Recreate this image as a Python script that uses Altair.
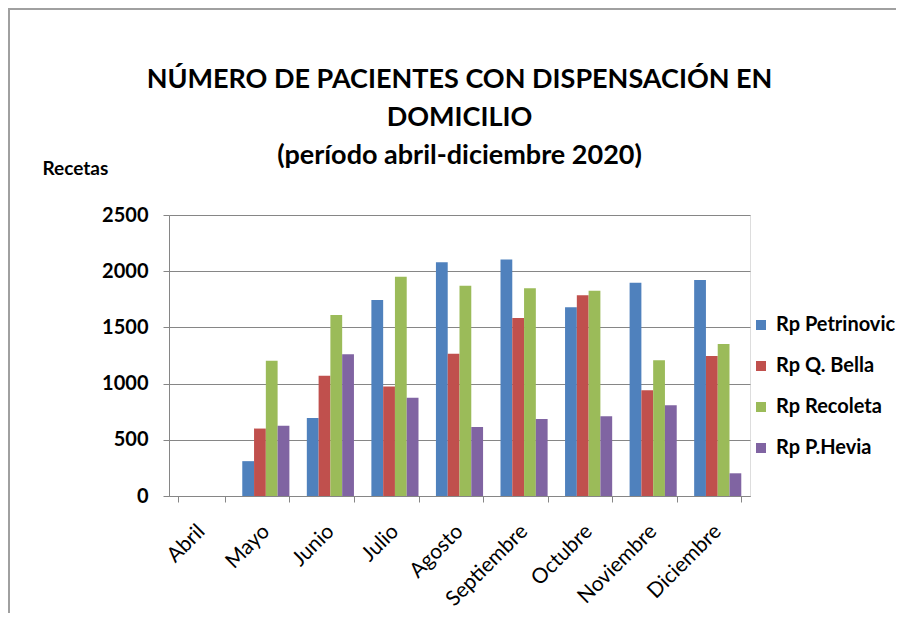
import altair as alt
import pandas as pd

months = ["Abril", "Mayo", "Junio", "Julio", "Agosto", "Septiembre", "Octubre", "Noviembre", "Diciembre"]
series = ["Rp Petrinovic", "Rp Q. Bella", "Rp Recoleta", "Rp P.Hevia"]
colors = ["#4F81BD", "#C0504D", "#9BBB59", "#8064A2"]

petrinovic = [0, 310, 694, 1744, 2079, 2103, 1679, 1898, 1922]
qbella = [0, 600, 1070, 975, 1266, 1584, 1785, 940, 1246]
recoleta = [0, 1203, 1611, 1950, 1871, 1848, 1827, 1207, 1352]
phevia = [0, 624, 1262, 875, 614, 685, 709, 807, 202]

y_ticks = [0, 500, 1000, 1500, 2000, 2500]

rows = []
for s, vals in zip(series, [petrinovic, qbella, recoleta, phevia]):
    for m, v in zip(months, vals):
        rows.append({"Mes": m, "Serie": s, "Valor": v})
df = pd.DataFrame(rows)

FONT = "Lato"
GRID = "#868686"

bars = alt.Chart(df).mark_bar().encode(
    x=alt.X("Mes:N", sort=months,
            scale=alt.Scale(paddingInner=0.27, paddingOuter=0.135),
            axis=alt.Axis(title=None, labelAngle=-45, labelAlign="right", labelBaseline="middle",
                          tickBand="extent", tickSize=6, tickColor=GRID, domainColor=GRID,
                          labelFont=FONT, labelFontSize=21, labelColor="#000000",
                          labelPadding=26, grid=False)),
    xOffset=alt.XOffset("Serie:N", sort=series, scale=alt.Scale(paddingInner=0, paddingOuter=0)),
    y=alt.Y("Valor:Q", scale=alt.Scale(domain=[0, 2500], nice=False),
            axis=alt.Axis(values=y_ticks, format="d", title="Recetas", titleAngle=0, titleAlign="left",
                          titleBaseline="alphabetic", titleX=-127, titleY=-41,
                          titleFont=FONT, titleFontSize=19, titleFontWeight="bold", titleColor="#000000",
                          labelFont=FONT, labelFontSize=20, labelFontWeight="bold", labelColor="#000000",
                          labelPadding=15, tickSize=6, tickColor=GRID, domainColor=GRID,
                          grid=True, gridColor=GRID, gridWidth=1)),
    color=alt.Color("Serie:N", sort=series,
                    scale=alt.Scale(domain=series, range=colors),
                    legend=alt.Legend(title=None, orient="none", legendX=582, legendY=100,
                                      symbolType="square", symbolSize=100, symbolStrokeWidth=0,
                                      labelFont=FONT, labelFontSize=20, labelFontWeight="bold",
                                      labelColor="#000000", rowPadding=21, labelOffset=5)),
)

frame_src = pd.DataFrame({"k": [0]})
frame_top = alt.Chart(frame_src).mark_rule(stroke="#A0A0A0", strokeWidth=2).encode(
    x=alt.value(-161), x2=alt.value(727), y=alt.value(-206))
frame_left = alt.Chart(frame_src).mark_rule(stroke="#A0A0A0", strokeWidth=2).encode(
    x=alt.value(-160), y=alt.value(-207), y2=alt.value(398))

chart = alt.layer(frame_top, frame_left, bars).properties(
    width=581,
    height=281,
    title=alt.TitleParams(
        text=["NÚMERO DE PACIENTES CON DISPENSACIÓN EN", "DOMICILIO", "(período abril-diciembre 2020)"],
        font=FONT, fontSize=27, fontWeight="bold", color="#000000", lineHeight=38,
        anchor="middle", offset=0, dy=163),
    autosize=alt.AutoSizeParams(type="none"),
    padding={"left": 161, "top": 207, "right": 146, "bottom": 117},
).configure_view(stroke=None).configure(background="white")

chart.save("out.html", embed_options={"renderer": "svg", "actions": False})
